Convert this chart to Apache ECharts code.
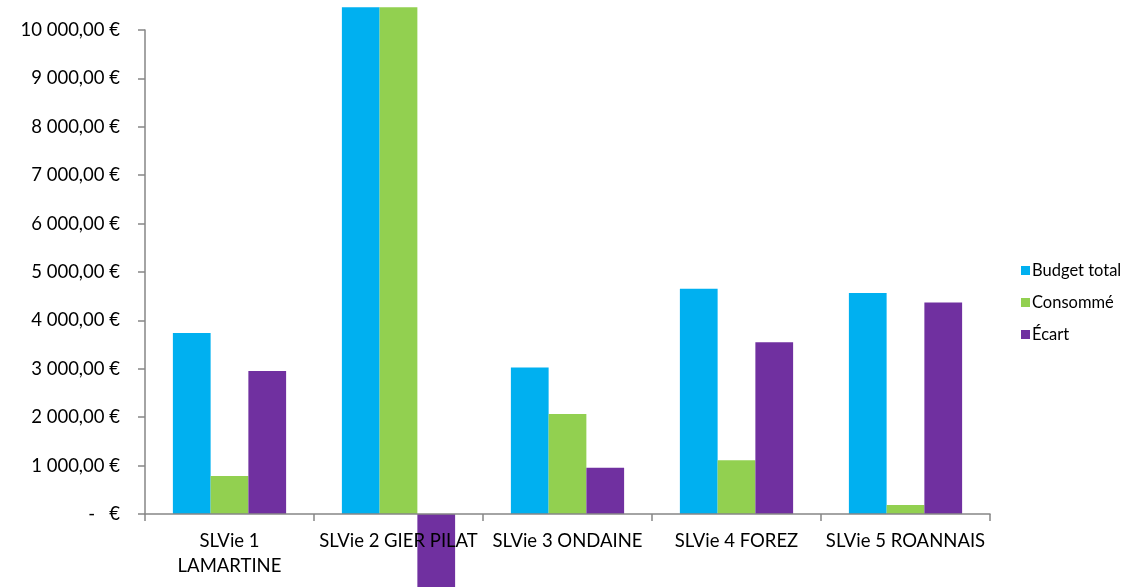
<!DOCTYPE html>
<html><head><meta charset="utf-8">
<script src="https://cdn.jsdelivr.net/npm/echarts@6/dist/echarts.min.js"></script>
<style>html,body{margin:0;padding:0;background:#fff}#c{width:1129px;height:587px}</style>
</head><body><div id="c"></div>
<script>
const categories = ['SLVie 1\nLAMARTINE', 'SLVie 2 GIER PILAT', 'SLVie 3 ONDAINE', 'SLVie 4 FOREZ', 'SLVie 5 ROANNAIS'];
const budgetTotal = [3740, 10470, 3025, 4655, 4565];
const consomme = [785, 10470, 2068, 1109, 188];
const ecart = [2955, -1600, 957, 3546, 4372];
const seriesNames = ['Budget total', 'Consommé', 'Écart'];
const colors = ['#00B0F0', '#92D050', '#7030A0'];

function fmtEuro(v) {
  if (v === 0) return '-   €';
  const s = Math.round(v).toString().replace(/\B(?=(\d{3})+(?!\d))/g, ' ');
  return s + ',00 €';
}

const chart = echarts.init(document.getElementById('c'));
const font = 'Lato, "Open Sans", sans-serif';
chart.setOption({
  animation: false,
  textStyle: { fontFamily: font },
  grid: { left: 145, right: 139, top: 30, bottom: 73 },
  legend: {
    orient: 'vertical', left: 1016, top: 257,
    itemWidth: 9, itemHeight: 9, itemGap: 15,
    icon: 'rect',
    textStyle: { fontSize: 16.5, color: '#000', fontFamily: font, padding: [0, 0, 0, -3] },
    data: seriesNames
  },
  xAxis: {
    type: 'category', data: categories, z: 10,
    axisLine: { lineStyle: { color: '#868686', width: 1.5 } },
    axisTick: { show: true, length: 7, lineStyle: { color: '#868686', width: 1.5 } },
    axisLabel: { interval: 0, color: '#000', fontSize: 18.5, margin: 15, lineHeight: 25, fontFamily: font }
  },
  yAxis: {
    type: 'value', min: 0, max: 10000, interval: 1000,
    splitLine: { show: false },
    axisLine: { show: true, lineStyle: { color: '#868686', width: 1.5 } },
    axisTick: { show: true, length: 7, lineStyle: { color: '#868686', width: 1.5 } },
    axisLabel: { color: '#000', fontSize: 18.5, margin: 25, formatter: fmtEuro, fontFamily: font }
  },
  series: [
    { name: seriesNames[0], type: 'bar', data: budgetTotal, clip: false, barGap: '0%', barCategoryGap: '33%', itemStyle: { color: colors[0] } },
    { name: seriesNames[1], type: 'bar', data: consomme, clip: false, itemStyle: { color: colors[1] } },
    { name: seriesNames[2], type: 'bar', data: ecart, clip: false, itemStyle: { color: colors[2] } }
  ]
});
</script></body></html>
